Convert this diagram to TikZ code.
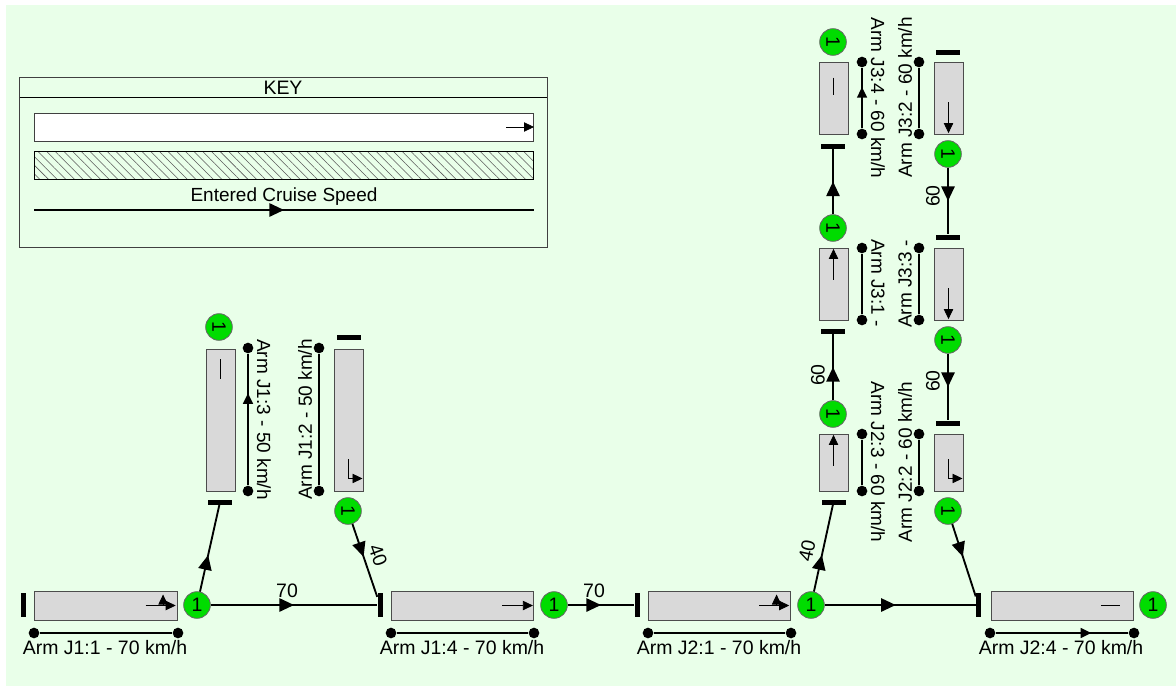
\documentclass[tikz,border=0pt]{standalone}
\usepackage{fontspec}
\setmainfont{Liberation Sans}
\usepackage{xcolor}
\usetikzlibrary{arrows.meta, positioning, patterns.meta, decorations.markings}

\definecolor{paper}{HTML}{E9FFE9}
\definecolor{armgrey}{HTML}{D9D9D9}
\definecolor{lanegreen}{HTML}{00DC00}

\begin{document}
\begin{tikzpicture}[
    x=0.75pt, y=-0.75pt,
    node distance=8pt,
    txt/.style={inner sep=0pt, font=\fontsize{14.6}{16}\selectfont},
    txtv/.style={inner sep=0pt, font=\fontsize{14.25}{16}\selectfont},
    armh/.style={rectangle, draw=black!70, fill=armgrey, line width=0.7pt, minimum width=106.9pt, minimum height=21.75pt, inner sep=0pt},
    armv/.style={rectangle, draw=black!70, fill=armgrey, line width=0.7pt, minimum width=21.75pt, inner sep=0pt},
    stopv/.style={rectangle, fill=black, minimum width=3.75pt, minimum height=18pt, inner sep=0pt},
    stoph/.style={rectangle, fill=black, minimum width=18pt, minimum height=3.75pt, inner sep=0pt},
    lane/.style={circle, draw=black!60, fill=lanegreen, line width=0.6pt, minimum size=20pt, inner sep=0pt, txt},
    lanev/.style={lane, rotate=-90},
    dot/.style={circle, fill=black, minimum size=8pt, inner sep=0pt},
    dim/.style={line width=1.2pt},
    link/.style={line width=1.4pt},
    thin arrow/.style={line width=0.6pt, -{Triangle[length=7.5pt,width=7pt]}},
    plainlane/.style={line width=0.6pt},
    tip/.style={postaction={decorate}, decoration={markings, mark=at position #1 with {\arrow{Triangle[length=11pt,width=10pt]}}}},
    smalltip/.style={postaction={decorate}, decoration={markings, mark=at position #1 with {\arrow{Triangle[length=8pt,width=7.5pt]}}}}
]
    \useasboundingbox (0,0) rectangle (1176,686);
    \fill[paper] (6,5) rectangle (1176,686);

    % Key
    \node (key) [rectangle, draw=black!75, line width=0.7pt, minimum width=396pt, minimum height=127.5pt, inner sep=0pt] at (283.25,162) {};
    \coordinate (keyhl) at (19.5,97);
    \coordinate (keyhr) at (547,97);
    \draw [line width=0.7pt] (keyhl) -- (keyhr);
    \node (keytitle) [txt] at (283,88) {KEY};
    \node (keywhite) [rectangle, draw=black!75, fill=white, line width=0.7pt, minimum width=374.5pt, minimum height=21pt, inner sep=0pt] at (283.75,127) {};
    \node (keyhatch) [rectangle, draw=black, line width=0.7pt, minimum width=374.5pt, minimum height=21pt, inner sep=0pt, pattern={Lines[angle=-45,distance=4.6pt,line width=0.4pt]}, pattern color=black!65] at (283.75,165) {};
    \coordinate (keysa) at (506,127);
    \coordinate (keysb) at (534,127);
    \draw [thin arrow] (keysa) -- (keysb);
    \node (keyspeed) [txtv] at (284,197) {Entered Cruise Speed};
    \coordinate (keyla) at (34,210);
    \coordinate (keylb) at (534,210);
    \draw [link, tip=0.5] (keyla) -- (keylb);

    % Arms along the main road
    \node (a11) [armh] at (106,605.5) {};
    \node (a14) [armh] at (462.5,605.5) {};
    \node (a21) [armh] at (719.5,605.5) {};
    \node (a24) [armh] at (1062.5,605.5) {};

    % Arms of J1
    \node (a13) [armv, minimum height=106.5pt] at (220.5,420) {};
    \node (a12) [armv, minimum height=106.5pt] at (348.5,420) {};

    % Arms of J2 and J3
    \node (a23) [armv, minimum height=42.75pt] at (833.5,462.5) {};
    \node (a22) [armv, minimum height=42.75pt] at (948.5,462.5) {};
    \node (a31) [armv, minimum height=54pt] at (833.5,284) {};
    \node (a33) [armv, minimum height=54pt] at (948.5,284) {};
    \node (a34) [armv, minimum height=54pt] at (833.5,98) {};
    \node (a32) [armv, minimum height=54pt] at (948.5,98) {};

    % Stop lines
    \node (s11) [stopv] at (23,605) {};
    \node (s14) [stopv] at (380,605) {};
    \node (s21) [stopv] at (637,605) {};
    \node (s24) [stopv] at (978.5,605) {};
    \node (s13) [stoph] at (220,502) {};
    \node (s12) [stoph] at (348.5,337) {};
    \node (s23) [stoph] at (833.5,502) {};
    \node (s22) [stoph] at (948,423) {};
    \node (s31) [stoph] at (833,331) {};
    \node (s33) [stoph] at (948,237) {};
    \node (s34) [stoph] at (833,146) {};
    \node (s32) [stoph] at (948,52) {};

    % Lanes
    \node (l11) [lane] at (197,605) {1};
    \node (l14) [lane] at (554,605) {1};
    \node (l21) [lane] at (811,605) {1};
    \node (l24) [lane] at (1153,605) {1};
    \node (l13) [lanev] at (219,327) {1};
    \node (l12) [lanev] at (348,511) {1};
    \node (l23) [lanev] at (833,414) {1};
    \node (l22) [lanev] at (948,511) {1};
    \node (l31) [lanev] at (833,228) {1};
    \node (l33) [lanev] at (948,340) {1};
    \node (l34) [lanev] at (833,42) {1};
    \node (l32) [lanev] at (948,154) {1};

    % Connectors
    \draw [link, tip=0.5] (l11) -- (s14);
    \draw [link, tip=0.42] (l11) -- (s13);
    \draw [link, tip=0.45] (l12) -- (s14);
    \draw [link, tip=0.5] (l14) -- (s21);
    \draw [link, tip=0.47] (l21) -- (s24);
    \draw [link, tip=0.42] (l21) -- (s23);
    \draw [link, tip=0.45] (l22) -- (s24);
    \draw [link, tip=0.5] (l23) -- (s31);
    \draw [link, tip=0.5] (l31) -- (s34);
    \draw [link, tip=0.5] (l32) -- (s33);
    \draw [link, tip=0.5] (l33) -- (s22);

    % Speeds
    \node (v1) [txt] at (287,591) {70};
    \node (v2) [txt] at (594,591) {70};
    \node (v3) [txt, rotate=-70] at (378,555) {40};
    \node (v4) [txt, rotate=78] at (807,551) {40};
    \node (v5) [txt, rotate=90] at (818,375) {60};
    \node (v6) [txt, rotate=90] at (933,381) {60};
    \node (v7) [txt, rotate=90] at (933,196) {60};

    % Measures
    \node (d11a) [dot] at (34,633) {};
    \node (d11b) [dot] at (178,633) {};
    \node (d14a) [dot] at (391,633) {};
    \node (d14b) [dot] at (534,633) {};
    \node (d21a) [dot] at (648,633) {};
    \node (d21b) [dot] at (791,633) {};
    \node (d24a) [dot] at (990,633) {};
    \node (d24b) [dot] at (1134,633) {};
    \node (d13a) [dot] at (248,491) {};
    \node (d13b) [dot] at (248,348) {};
    \node (d12a) [dot] at (319,491) {};
    \node (d12b) [dot] at (319,348) {};
    \node (d23a) [dot] at (862,491) {};
    \node (d23b) [dot] at (862,434) {};
    \node (d22a) [dot] at (919,491) {};
    \node (d22b) [dot] at (919,434) {};
    \node (d31a) [dot] at (862,320) {};
    \node (d31b) [dot] at (862,248) {};
    \node (d33a) [dot] at (919,320) {};
    \node (d33b) [dot] at (919,248) {};
    \node (d34a) [dot] at (862,134) {};
    \node (d34b) [dot] at (862,62) {};
    \node (d32a) [dot] at (919,134) {};
    \node (d32b) [dot] at (919,62) {};
    \draw [dim] (d11a) -- (d11b);
    \draw [dim] (d14a) -- (d14b);
    \draw [dim] (d21a) -- (d21b);
    \draw [dim, smalltip=0.72] (d24a) -- (d24b);
    \draw [dim, smalltip=0.7] (d13a) -- (d13b);
    \draw [dim] (d12a) -- (d12b);
    \draw [dim] (d23a) -- (d23b);
    \draw [dim] (d22a) -- (d22b);
    \draw [dim] (d31a) -- (d31b);
    \draw [dim] (d33a) -- (d33b);
    \draw [dim, smalltip=0.68] (d34a) -- (d34b);
    \draw [dim] (d32a) -- (d32b);

    % Arm names
    \node (n11) [txt] at (105,648) {Arm J1:1 - 70 km/h};
    \node (n14) [txt] at (462,648) {Arm J1:4 - 70 km/h};
    \node (n21) [txt] at (719,648) {Arm J2:1 - 70 km/h};
    \node (n24) [txt] at (1061,648) {Arm J2:4 - 70 km/h};
    \node (n13) [txtv, rotate=-90] at (264,419.5) {Arm J1:3 - 50 km/h};
    \node (n12) [txtv, rotate=90] at (305,419.5) {Arm J1:2 - 50 km/h};
    \node (n23) [txtv, rotate=-90] at (878,462) {Arm J2:3 - 60 km/h};
    \node (n22) [txtv, rotate=90] at (905,462) {Arm J2:2 - 60 km/h};
    \node (n31) [txtv, rotate=-90] at (878,283) {Arm J3:1 -};
    \node (n33) [txtv, rotate=90] at (905,284) {Arm J3:3 -};
    \node (n34) [txtv, rotate=-90] at (878,98) {Arm J3:4 - 60 km/h};
    \node (n32) [txtv, rotate=90] at (905,97.5) {Arm J3:2 - 60 km/h};

    % Turning marks inside the arms
    \draw [thin arrow] ([xshift=-24pt]a11.east) -- ([xshift=-1.5pt]a11.east);
    \draw [thin arrow] ([xshift=-11pt]a11.east) -- ++(0,-11);
    \draw [thin arrow] ([xshift=-24pt]a14.east) -- ([xshift=-1pt]a14.east);
    \draw [thin arrow] ([xshift=-24pt]a21.east) -- ([xshift=-1.5pt]a21.east);
    \draw [thin arrow] ([xshift=-11pt]a21.east) -- ++(0,-11);
    \draw [plainlane] ([xshift=-25pt]a24.east) -- ([xshift=-11pt]a24.east);
    \draw [plainlane] ([yshift=-8pt]a13.north) -- ++(0,20);
    \draw [plainlane] ([yshift=-12pt]a34.north) -- ++(0,17);
    \draw [thin arrow] ([yshift=-24pt]a31.north) -- ([yshift=-1pt]a31.north);
    \draw [thin arrow] ([yshift=24pt]a33.south) -- ([yshift=1pt]a33.south);
    \draw [thin arrow] ([yshift=24pt]a32.south) -- ([yshift=1pt]a32.south);
    \draw [thin arrow] ([yshift=-24pt]a23.north) -- ([yshift=-1pt]a23.north);
    \draw [thin arrow] ([yshift=24pt]a12.south) -- ++(0,19) -- ++(14,0);
    \draw [thin arrow] ([yshift=24pt]a22.south) -- ++(0,19) -- ++(14,0);
\end{tikzpicture}
\end{document}
